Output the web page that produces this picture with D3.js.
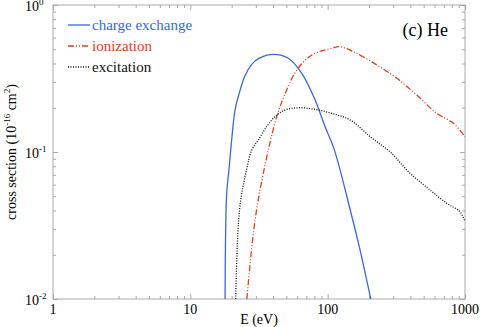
<!DOCTYPE html>
<html>
<head>
<meta charset="utf-8">
<script src="https://d3js.org/d3.v7.min.js"></script>
<style>
body { margin: 0; background: #fff; }
svg text { font-family: "Liberation Serif", "Times New Roman", serif; }
</style>
</head>
<body>
<div id="chart-area"></div>
<script>
// charge exchange (blue)
var cxE = [17.9, 18.4, 19.1, 20.0, 21.2, 23.0, 25.0, 28.0, 31.3, 40.3, 51.7, 64.8, 81.0, 95.7, 112, 146, 172, 206];
var cxS = [0.01, 0.0526, 0.0754, 0.121, 0.195, 0.262, 0.330, 0.395, 0.432, 0.462, 0.434, 0.343, 0.226, 0.149, 0.103, 0.0403, 0.0216, 0.01];

// ionization (red)
var ionE = [25.8, 29.6, 35.6, 42.6, 50.3, 59.6, 76.6, 107, 123, 154, 228, 319, 445, 623, 823, 1000];
var ionS = [0.01, 0.0345, 0.088, 0.174, 0.264, 0.361, 0.457, 0.508, 0.52, 0.481, 0.391, 0.317, 0.244, 0.183, 0.157, 0.127];

// excitation (black)
var exE = [21.4, 22.8, 25.8, 28.0, 31.3, 36.0, 41.4, 48.9, 61.2, 81.0, 107, 146, 204, 285, 398, 557, 737, 920, 1000];
var exS = [0.01, 0.0403, 0.0775, 0.103, 0.121, 0.149, 0.174, 0.193, 0.200, 0.195, 0.183, 0.165, 0.127, 0.100, 0.0716, 0.0551, 0.0448, 0.0392, 0.0336];

var xTicks = [1, 10, 100, 1000];
var yTicks = [1, 0.1, 0.01];
var yExp = ["0", "-1", "-2"];

var margin = { left: 53, right: 15, top: 5, bottom: 28 };
var width = 480 - margin.left - margin.right,
    height = 327 - margin.top - margin.bottom;

var svg = d3.select("#chart-area")
    .append("svg")
    .attr("width", 480)
    .attr("height", 327);

var g = svg.append("g")
    .attr("transform", "translate(" + margin.left + "," + margin.top + ")");

var x = d3.scaleLog().domain([1, 1000]).range([0, width]);
var y = d3.scaleLog().domain([0.01, 1]).range([height, 0]);

var axisColor = "#aaa";

// minor ticks 2..9 in each decade
var xMinor = [], yMinor = [];
[1, 10, 100].forEach(function(d){
    for (var k = 2; k <= 9; k++) xMinor.push(d * k);
});
[0.01, 0.1].forEach(function(d){
    for (var k = 2; k <= 9; k++) yMinor.push(d * k);
});

function tickAxis(axis) {
    return function(sel) {
        sel.call(axis);
        sel.select(".domain").remove();
        sel.selectAll("line").attr("stroke", axisColor);
    };
}

// all ticks point inward, on all four sides
var axes = [
    [d3.axisBottom(x).tickValues(xTicks).tickSize(-5), "translate(0," + height + ")"],
    [d3.axisBottom(x).tickValues(xMinor).tickSize(-3), "translate(0," + height + ")"],
    [d3.axisTop(x).tickValues(xTicks).tickSize(-5), null],
    [d3.axisTop(x).tickValues(xMinor).tickSize(-3), null],
    [d3.axisLeft(y).tickValues(yTicks).tickSize(-5), null],
    [d3.axisLeft(y).tickValues(yMinor).tickSize(-3), null],
    [d3.axisRight(y).tickValues(yTicks).tickSize(-5), "translate(" + width + ",0)"],
    [d3.axisRight(y).tickValues(yMinor).tickSize(-3), "translate(" + width + ",0)"]
];
axes.forEach(function(a){
    g.append("g")
        .attr("transform", a[1])
        .call(tickAxis(a[0].tickFormat("")));
});

g.append("rect")
    .attr("width", width)
    .attr("height", height)
    .attr("fill", "none")
    .attr("stroke", axisColor)
    .attr("stroke-width", 1);

// tick labels
g.selectAll(".xlab")
    .data(xTicks)
    .enter().append("text")
    .attr("x", function(d){ return x(d); })
    .attr("y", height + 15)
    .attr("text-anchor", "middle")
    .attr("font-size", "14px")
    .text(function(d){ return d; });

var ylab = g.selectAll(".ylab")
    .data(yTicks)
    .enter().append("text")
    .attr("x", -28)
    .attr("y", function(d){ return y(d) + 6; })
    .attr("font-size", "14px");
ylab.append("tspan").text("10");
ylab.append("tspan")
    .attr("dy", -6)
    .attr("font-size", "9px")
    .text(function(d, i){ return yExp[i]; });

// axis titles
g.append("text")
    .attr("x", width / 2)
    .attr("y", height + 25)
    .attr("text-anchor", "middle")
    .attr("font-size", "14px")
    .text("E (eV)");

var yt = g.append("text")
    .attr("transform", "translate(-37," + (height / 2) + ") rotate(-90)")
    .attr("text-anchor", "middle")
    .attr("font-size", "14px");
yt.append("tspan").text("cross section (10");
yt.append("tspan").attr("dy", -6).attr("font-size", "9px").text("-16");
yt.append("tspan").attr("dy", 6).text(" cm");
yt.append("tspan").attr("dy", -6).attr("font-size", "9px").text("2");
yt.append("tspan").attr("dy", 6).text(")");

// curves
var series = [
    { name: "charge exchange", E: cxE, S: cxS, color: "#3868e4", dash: null },
    { name: "ionization", E: ionE, S: ionS, color: "#e0401c", dash: "6,2,1,2,1,2" },
    { name: "excitation", E: exE, S: exS, color: "#111", dash: "1,1.5" }
];

var line = d3.line()
    .x(function(d){ return x(d[0]); })
    .y(function(d){ return y(d[1]); })
    .curve(d3.curveCatmullRom.alpha(0.5));

g.append("clipPath").attr("id", "clip")
    .append("rect").attr("width", width).attr("height", height);

series.forEach(function(s){
    var pts = s.E.map(function(e, i){ return [e, s.S[i]]; });
    g.append("path")
        .datum(pts)
        .attr("clip-path", "url(#clip)")
        .attr("fill", "none")
        .attr("stroke", s.color)
        .attr("stroke-width", 1.3)
        .attr("stroke-dasharray", s.dash)
        .attr("d", line);
});

// legend
var leg = g.selectAll(".legend")
    .data(series)
    .enter().append("g")
    .attr("transform", function(d, i){ return "translate(15," + (20 + i * 21) + ")"; });
leg.append("line")
    .attr("x1", 0).attr("x2", 22)
    .attr("stroke", function(d){ return d.color; })
    .attr("stroke-width", 1.3)
    .attr("stroke-dasharray", function(d){ return d.dash; });
leg.append("text")
    .attr("x", 24)
    .attr("y", 5)
    .attr("font-size", "15px")
    .attr("fill", function(d){ return d.color; })
    .text(function(d){ return d.name; });

g.append("text")
    .attr("x", width - 17)
    .attr("y", 31)
    .attr("text-anchor", "end")
    .attr("font-size", "18px")
    .text("(c) He");
</script>
</body>
</html>
